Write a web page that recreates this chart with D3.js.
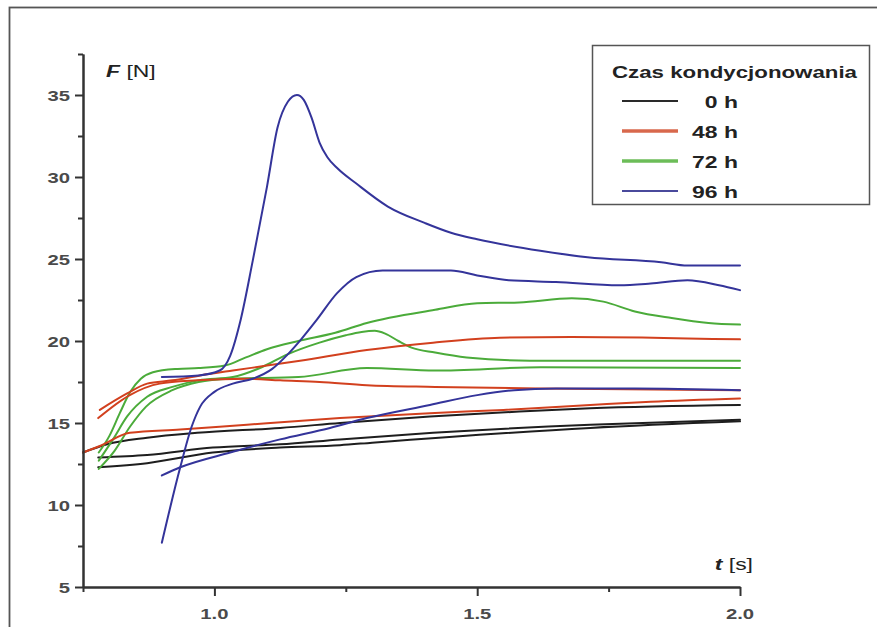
<!DOCTYPE html>
<html>
<head>
<meta charset="utf-8">
<script src="https://cdn.jsdelivr.net/npm/d3@7"></script>
<style>
  html, body { margin: 0; padding: 0; background: #fff; }
  svg { display: block; }
</style>
</head>
<body>
<svg id="chart" width="877" height="627"></svg>
<script>
// ---------------- DATA ----------------
const xTicksMajor = [1.0, 1.5, 2.0];
const xTicksMinor = [0.75, 1.25, 1.75];
const xTickLabels = ["1.0", "1.5", "2.0"];
const yTicksMajor = [5, 10, 15, 20, 25, 30, 35];
const yTicksMinor = [7.5, 12.5, 17.5, 22.5, 27.5, 32.5, 37.5];
const yTickLabels = ["5", "10", "15", "20", "25", "30", "35"];

const legendTitle = "Czas kondycjonowania";
const seriesNames = ["0 h", "48 h", "72 h", "96 h"];
const seriesColors = ["#1e1e1e", "#d2401e", "#4bab3a", "#34349a"];
const legendColors = ["#2a2a2a", "#d8684c", "#6cbd58", "#4a4a9c"];

// 0 h (black)
const black1 = [[0.75,13.2],[0.796,13.7],[0.872,14.1],[0.967,14.4],[1.125,14.7],[1.239,15.0],[1.41,15.4],[1.58,15.7],[1.715,15.9],[2.0,16.1]];
const black2 = [[0.779,12.9],[0.872,13.05],[0.997,13.5],[1.125,13.7],[1.239,14.0],[1.416,14.4],[1.715,14.9],[2.0,15.2]];
const black3 = [[0.779,12.3],[0.872,12.55],[0.997,13.2],[1.125,13.5],[1.239,13.65],[1.30,13.8],[1.715,14.7],[2.0,15.1]];
// 48 h (red)
const red1 = [[0.782,15.8],[0.834,16.8],[0.872,17.4],[0.92,17.6],[0.973,17.9],[1.035,18.2],[1.10,18.5],[1.163,18.8],[1.29,19.45],[1.416,19.9],[1.543,20.2],[1.68,20.25],[2.0,20.1]];
const red2 = [[0.779,15.3],[0.839,16.7],[0.896,17.4],[0.967,17.6],[1.062,17.7],[1.125,17.6],[1.2,17.5],[1.29,17.3],[1.42,17.2],[1.62,17.1],[2.0,17.0]];
const red3 = [[0.75,13.2],[0.782,13.6],[0.839,14.4],[0.935,14.6],[1.062,14.9],[1.239,15.3],[1.41,15.6],[1.55,15.8],[1.715,16.1],[1.83,16.3],[2.0,16.5]];
// 72 h (green)
const green1 = [[0.78,13.2],[0.80,14.2],[0.82,15.6],[0.84,16.9],[0.86,17.7],[0.883,18.1],[0.93,18.3],[0.97,18.35],[1.02,18.5],[1.06,19.0],[1.10,19.5],[1.16,20.0],[1.23,20.5],[1.29,21.1],[1.42,21.9],[1.50,22.3],[1.58,22.35],[1.68,22.6],[1.74,22.4],[1.80,21.8],[1.87,21.4],[1.94,21.1],[2.0,21.0]];
const green2 = [[0.78,12.7],[0.807,14.0],[0.834,15.4],[0.872,16.6],[0.92,17.2],[0.97,17.6],[1.035,17.8],[1.09,18.4],[1.14,19.2],[1.20,19.9],[1.25,20.35],[1.28,20.55],[1.305,20.62],[1.325,20.45],[1.35,20.0],[1.375,19.6],[1.42,19.3],[1.48,19.0],[1.60,18.8],[1.80,18.8],[2.0,18.8]];
const green3 = [[0.78,12.2],[0.81,13.3],[0.84,14.8],[0.87,16.0],[0.92,17.0],[0.97,17.5],[1.03,17.7],[1.16,17.8],[1.29,18.35],[1.42,18.2],[1.62,18.4],[2.0,18.35]];
// 96 h (blue)
const blue1 = [[0.90,17.8],[0.97,17.9],[1.01,18.2],[1.03,19.1],[1.05,21.3],[1.073,24.9],[1.10,29.4],[1.12,33.0],[1.14,34.6],[1.157,35.0],[1.17,34.7],[1.185,33.6],[1.20,32.1],[1.215,31.2],[1.235,30.5],[1.27,29.6],[1.33,28.2],[1.40,27.2],[1.45,26.6],[1.50,26.2],[1.62,25.5],[1.71,25.1],[1.85,24.8],[1.90,24.6],[2.0,24.6]];
const blue2 = [[0.90,7.7],[0.935,12.3],[0.957,14.8],[0.973,16.0],[1.0,16.9],[1.035,17.4],[1.073,17.7],[1.11,18.3],[1.14,19.2],[1.165,20.1],[1.195,21.3],[1.233,22.9],[1.27,23.9],[1.32,24.3],[1.45,24.3],[1.50,24.0],[1.56,23.7],[1.65,23.6],[1.77,23.4],[1.83,23.5],[1.90,23.7],[1.96,23.4],[2.0,23.1]];
const blue3 = [[0.90,11.8],[0.935,12.3],[1.03,13.2],[1.125,14.0],[1.22,14.7],[1.29,15.3],[1.41,16.1],[1.50,16.7],[1.57,17.0],[1.65,17.1],[1.80,17.1],[2.0,17.0]];

const curves = [
  {s: 0, d: black1}, {s: 0, d: black2}, {s: 0, d: black3},
  {s: 2, d: green3}, {s: 2, d: green2}, {s: 2, d: green1},
  {s: 1, d: red2}, {s: 1, d: red1}, {s: 1, d: red3},
  {s: 3, d: blue3}, {s: 3, d: blue2}, {s: 3, d: blue1}
];

// ---------------- LAYOUT ----------------
const SX = 1.35;               // horizontal stretch of the original picture's text
const FONT = "'Liberation Sans', Arial, Helvetica, sans-serif";
const svg = d3.select("#chart");

const x = d3.scaleLinear().domain([0.75, 2.0]).range([83, 740]);
const y = d3.scaleLinear().domain([5, 37.5]).range([587, 54]);

function stext(g, px, py, str, o) {
  o = o || {};
  return g.append("text")
    .attr("transform", `translate(${px},${py}) scale(${SX},1)`)
    .attr("text-anchor", o.anchor || "start")
    .attr("font-family", FONT)
    .attr("font-size", o.size || 15)
    .attr("font-weight", o.weight || "bold")
    .attr("font-style", o.style || "normal")
    .attr("fill", o.fill || "#222")
    .text(str);
}

// outer frame
svg.append("rect").attr("x", 9.5).attr("y", 7.5).attr("width", 900).attr("height", 700)
  .attr("fill", "none").attr("stroke", "#555").attr("stroke-width", 1.8);

// curves
const line = d3.line().x(d => x(d[0])).y(d => y(d[1])).curve(d3.curveMonotoneX);
svg.append("g").selectAll("path").data(curves).join("path")
  .attr("d", c => line(c.d))
  .attr("fill", "none")
  .attr("stroke", c => seriesColors[c.s])
  .attr("stroke-width", 2)
  .attr("stroke-linejoin", "round")
  .attr("stroke-linecap", "round");

// axes
const axisColor = "#333";
function styleAxis(g) {
  g.selectAll("path, line").attr("stroke", axisColor).attr("stroke-width", 2);
  g.selectAll("text").remove();
}
svg.append("g").attr("transform", "translate(83,0)")
  .call(d3.axisLeft(y).tickValues(yTicksMajor).tickSize(8).tickSizeOuter(0)).call(styleAxis);
svg.append("g").attr("transform", "translate(83,0)")
  .call(d3.axisLeft(y).tickValues(yTicksMinor).tickSize(5).tickSizeOuter(0)).call(styleAxis);
svg.append("g").attr("transform", "translate(0,587)")
  .call(d3.axisBottom(x).tickValues(xTicksMajor).tickSize(9).tickSizeOuter(0)).call(styleAxis);
svg.append("g").attr("transform", "translate(0,587)")
  .call(d3.axisBottom(x).tickValues(xTicksMinor).tickSize(5).tickSizeOuter(0)).call(styleAxis);

// tick labels
yTicksMajor.forEach((v, i) => stext(svg, 70, y(v) + 5.5, yTickLabels[i], {anchor: "end", size: 15, fill: "#4a4a4a"}));
xTicksMajor.forEach((v, i) => stext(svg, x(v), 619, xTickLabels[i], {anchor: "middle", size: 15, fill: "#4a4a4a"}));

// axis titles
const fl = svg.append("text")
  .attr("transform", `translate(106,77) scale(${SX},1)`)
  .attr("font-family", FONT).attr("font-size", 17).attr("font-weight", "bold").attr("fill", "#222");
fl.append("tspan").attr("font-style", "italic").text("F");
fl.append("tspan").attr("font-weight", "normal").text(" [N]");
const tl = svg.append("text")
  .attr("transform", `translate(753,570) scale(${SX},1)`)
  .attr("text-anchor", "end")
  .attr("font-family", FONT).attr("font-size", 17).attr("font-weight", "bold").attr("fill", "#222");
tl.append("tspan").attr("font-style", "italic").text("t");
tl.append("tspan").attr("font-weight", "normal").text(" [s]");

// legend
const lg = svg.append("g");
lg.append("rect").attr("x", 592.5).attr("y", 45.5).attr("width", 277).attr("height", 159)
  .attr("fill", "#fff").attr("stroke", "#555").attr("stroke-width", 1.5);
stext(lg, 612, 78, legendTitle, {size: 16.5, fill: "#222"});
const legendW = [2, 3.5, 3.5, 2];
seriesNames.forEach((n, i) => {
  const ly = 101 + i * 30;
  lg.append("line").attr("x1", 622).attr("x2", 678).attr("y1", ly).attr("y2", ly)
    .attr("stroke", legendColors[i]).attr("stroke-width", legendW[i]);
  stext(lg, 738, ly + 6.5, n, {anchor: "end", size: 17, fill: "#222"});
});
</script>
</body>
</html>
